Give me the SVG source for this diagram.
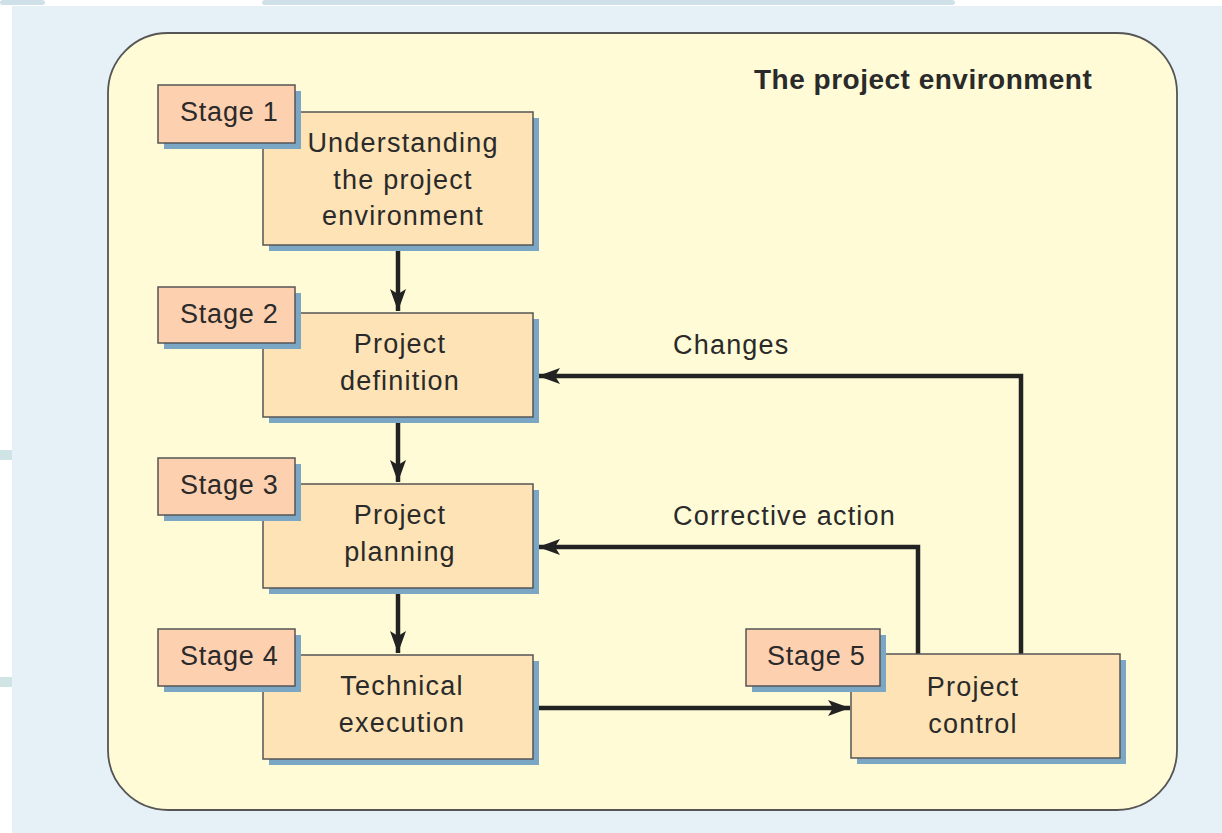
<svg xmlns="http://www.w3.org/2000/svg" width="1222" height="833" viewBox="0 0 1222 833">
<defs>
<style>
.t{font-family:"Liberation Sans",Arial,sans-serif;font-size:27px;fill:#2a2a2a;letter-spacing:1.2px}
.s{letter-spacing:0.8px}
.c{text-anchor:middle}
.b{font-weight:bold;font-size:28px;letter-spacing:0.5px}
.main{fill:#fde3b5;stroke:#555;stroke-width:1.5}
.lab{fill:#fdd0b0;stroke:#555;stroke-width:1.5}
.sh{fill:#7ca7c4}
.ln{fill:none;stroke:#222;stroke-width:4.5}
</style>
<marker id="ah" markerUnits="userSpaceOnUse" markerWidth="24" markerHeight="20" viewBox="0 0 24 20" refX="22" refY="10" orient="auto">
<path d="M0,2 L22,10 L0,18 L5,10 Z" fill="#222"/>
</marker>
</defs>
<rect x="0" y="0" width="1222" height="833" fill="#ffffff"/>
<rect x="0" y="0" width="45" height="5" rx="3" fill="#d0e0e8"/>
<rect x="262" y="0" width="693" height="5" rx="3" fill="#d0e0e8"/>
<rect x="12" y="6" width="1210" height="827" fill="#e5f0f7"/>
<rect x="0" y="450" width="12" height="10" fill="#d0e4e6"/>
<rect x="0" y="677" width="12" height="10" fill="#d0e4e6"/>
<rect x="108" y="33" width="1069" height="777" rx="60" ry="60" fill="#fffbd6" stroke="#555" stroke-width="1.8"/>
<text id="title" class="t b" x="754" y="89">The project environment</text>

<g id="connectors">
<path class="ln" d="M398,245 V311" marker-end="url(#ah)"/>
<path class="ln" d="M398,417 V482" marker-end="url(#ah)"/>
<path class="ln" d="M398,588 V653" marker-end="url(#ah)"/>
<path class="ln" d="M533,708 H850" marker-end="url(#ah)"/>
<path class="ln" d="M1021,654 V376 H538" marker-end="url(#ah)"/>
<path class="ln" d="M918,654 V547 H538" marker-end="url(#ah)"/>
<text class="t" x="673" y="354">Changes</text>
<text class="t" x="673" y="525">Corrective action</text>
</g>

<g id="stage1">
<rect class="sh" x="269" y="118" width="270" height="133"/>
<rect class="main" x="263" y="112" width="270" height="133"/>
<rect class="sh" x="164" y="91" width="137" height="58"/>
<rect class="lab" x="158" y="85" width="137" height="58"/>
<text class="t s" x="180" y="121">Stage 1</text>
<text class="t c" x="403" y="152">Understanding</text>
<text class="t c" x="403" y="189">the project</text>
<text class="t c" x="403" y="225">environment</text>
</g>

<g id="stage2">
<rect class="sh" x="269" y="319" width="270" height="104"/>
<rect class="main" x="263" y="313" width="270" height="104"/>
<rect class="sh" x="164" y="293" width="137" height="56"/>
<rect class="lab" x="158" y="287" width="137" height="56"/>
<text class="t s" x="180" y="323">Stage 2</text>
<text class="t c" x="400" y="353">Project</text>
<text class="t c" x="400" y="390">definition</text>
</g>

<g id="stage3">
<rect class="sh" x="269" y="490" width="270" height="104"/>
<rect class="main" x="263" y="484" width="270" height="104"/>
<rect class="sh" x="164" y="464" width="137" height="57"/>
<rect class="lab" x="158" y="458" width="137" height="57"/>
<text class="t s" x="180" y="494">Stage 3</text>
<text class="t c" x="400" y="524">Project</text>
<text class="t c" x="400" y="561">planning</text>
</g>

<g id="stage4">
<rect class="sh" x="269" y="661" width="270" height="104"/>
<rect class="main" x="263" y="655" width="270" height="104"/>
<rect class="sh" x="164" y="635" width="137" height="57"/>
<rect class="lab" x="158" y="629" width="137" height="57"/>
<text class="t s" x="180" y="665">Stage 4</text>
<text class="t c" x="402" y="695">Technical</text>
<text class="t c" x="402" y="732">execution</text>
</g>

<g id="stage5">
<rect class="sh" x="857" y="660" width="269" height="104"/>
<rect class="main" x="851" y="654" width="269" height="104"/>
<rect class="sh" x="752" y="635" width="134" height="57"/>
<rect class="lab" x="746" y="629" width="134" height="57"/>
<text class="t s" x="767" y="665">Stage 5</text>
<text class="t c" x="973" y="696">Project</text>
<text class="t c" x="973" y="733">control</text>
</g>
</svg>
